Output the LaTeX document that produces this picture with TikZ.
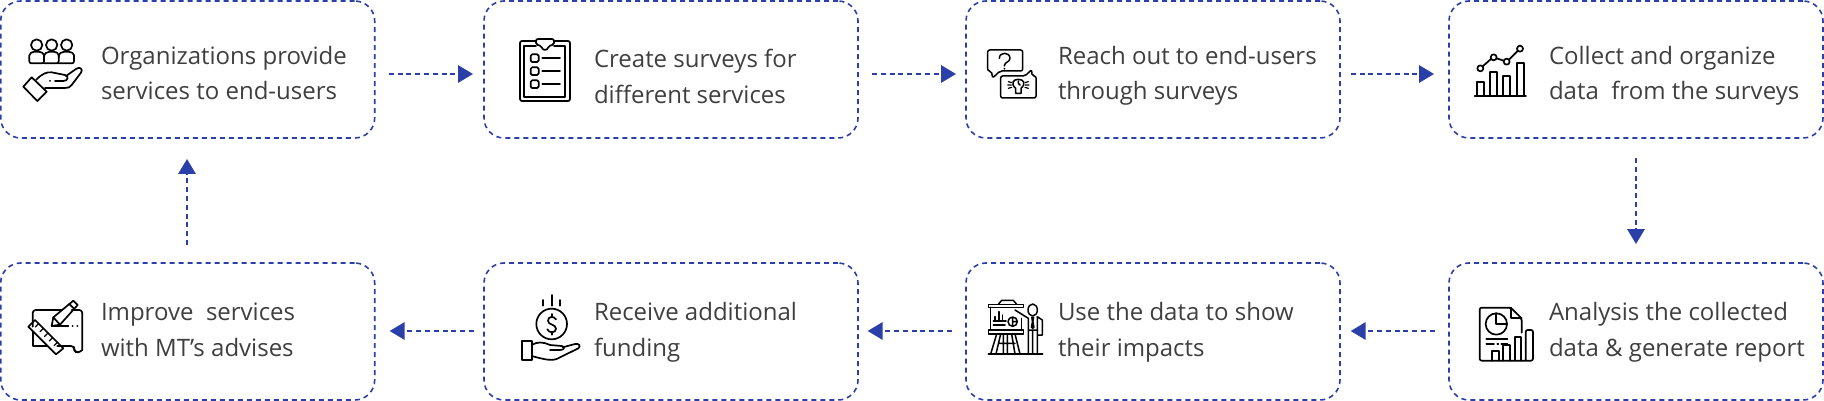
\documentclass[tikz,border=0pt]{standalone}
\usepackage{fontspec}
\setmainfont{Open Sans}
\usetikzlibrary{arrows.meta}
\definecolor{flowblue}{HTML}{2B3FA8}
\definecolor{labelgrey}{HTML}{3F3F3F}
\tikzset{
  stepbox/.style={draw=flowblue,line width=1.6pt,dash pattern=on 5pt off 4pt,rounded corners=20pt,minimum width=374pt,minimum height=137pt,inner sep=0pt,outer sep=0pt},
  flow/.style={draw=flowblue,line width=1.8pt,dash pattern=on 5pt off 3.8pt,-{Triangle[length=15pt,width=17.5pt,fill=flowblue]}},
  lbl/.style={anchor=base west,inner sep=0pt,outer sep=0pt,align=left,text=labelgrey,font=\fontsize{24}{35.6}\selectfont},
  ico/.style={x=0.33333pt,y=-0.33333pt,draw=black,line width=1.7pt,line join=round,line cap=round},
  thin ico/.style={line width=1.2pt}
}
\begin{document}
\begin{tikzpicture}[x=1pt,y=-1pt]
\useasboundingbox (0,0) rectangle (1824,401);
% boxes
\node[stepbox] (a) at (187.7,69.5) {};
\node[stepbox] (b) at (671,69.5) {};
\node[stepbox] (c) at (1153,69.5) {};
\node[stepbox] (d) at (1636,69.5) {};
\node[stepbox] (e) at (187.7,331.5) {};
\node[stepbox] (f) at (671,331.5) {};
\node[stepbox] (g) at (1153,331.5) {};
\node[stepbox] (h) at (1636,331.5) {};
% labels
\node[lbl] (ta) at (101,100) {Organizations provide\\services to end-users};
\node[lbl] (tb) at (594,103.3) {Create surveys for\\different services};
\node[lbl] (tc) at (1058,100) {Reach out to end-users\\through surveys};
\node[lbl] (td) at (1549,100) {Collect and organize\\data\ \ from the surveys};
\node[lbl] (te) at (101,356) {Improve\ \ services\\with MT’s advises};
\node[lbl] (tf) at (594,356) {Receive additional\\funding};
\node[lbl] (tg) at (1058,356) {Use the data to show\\their impacts};
\node[lbl] (th) at (1549,356) {Analysis the collected\\data \& generate report};
% connectors
\draw[flow,shorten <=14pt,shorten >=11pt] ([yshift=-4.5pt]a.east) -- ([yshift=-4.5pt]b.west);
\draw[flow,shorten <=14pt,shorten >=10pt] ([yshift=-4.5pt]b.east) -- ([yshift=-4.5pt]c.west);
\draw[flow,shorten <=10.7pt,shorten >=15pt] ([yshift=-4.5pt]c.east) -- ([yshift=-4.5pt]d.west);
\draw[flow,shorten <=20pt,shorten >=19pt] (d.south) -- (h.north);
\draw[flow,shorten <=14.3pt,shorten >=10.7pt] ([yshift=0.5pt]h.west) -- ([yshift=0.5pt]g.east);
\draw[flow,shorten <=14.3pt,shorten >=9.7pt] ([yshift=0.5pt]g.west) -- ([yshift=0.5pt]f.east);
\draw[flow,shorten <=10pt,shorten >=15pt] ([yshift=0.5pt]f.west) -- ([yshift=0.5pt]e.east);
\draw[flow,shorten <=18pt,shorten >=21pt] ([xshift=-0.7pt]e.north) -- ([xshift=-0.7pt]a.south);
% icon 1: people over a hand
\begin{scope}[shift={(0,0)},ico]
\draw (110,135) circle (17) (155,135) circle (17) (200,135) circle (17);
\draw[rounded corners=2pt] (88,190) -- (88,172) .. controls (88,160) and (96,155) .. (110,155) .. controls (124,155) and (132,160) .. (132,172) -- (132,190) -- cycle;
\draw[rounded corners=2pt] (132,172) .. controls (132,160) and (141,155) .. (155,155) .. controls (169,155) and (176,160) .. (176,172) -- (176,190) -- (132,190);
\draw[rounded corners=2pt] (176,172) .. controls (176,160) and (185,155) .. (199,155) .. controls (214,155) and (222,160) .. (222,172) -- (222,190) -- (176,190);
\draw (70,260) -- (95,232) -- (140,275) -- (112,303) -- cycle;
\draw (108,240) .. controls (125,222) and (140,215) .. (155,217) -- (195,225) .. controls (207,228) and (205,243) .. (190,243) -- (165,243);
\draw (198,228) -- (228,207) .. controls (240,198) and (250,208) .. (243,218) -- (215,255) .. controls (210,262) and (205,264) .. (195,264) -- (135,264);
\fill (150,243) circle (3);
\end{scope}
% icon 2: clipboard
\begin{scope}[shift={(480,0)},ico]
\draw[rounded corners=2pt] (168,123) -- (120,123) -- (120,303) -- (270,303) -- (270,123) -- (222,123);
\draw (168,138) -- (133,138) -- (133,290) -- (256,290) -- (256,138) -- (222,138);
\draw[rounded corners=2pt] (168,117) -- (222,117) -- (222,135) -- (205,137) .. controls (203,152) and (187,152) .. (185,137) -- (168,135) -- cycle;
\foreach \yy in {163,202,241}{
  \draw[rounded corners=1.5pt] (152,\yy) rectangle (176,\yy+23);
  \draw (187,\yy+11) -- (240,\yy+11);
}
\end{scope}
% icon 3: speech bubbles
\begin{scope}[shift={(960,0)},ico,line width=1.5pt]
\draw[rounded corners=2pt] (83,150) -- (188,150) -- (188,213) -- (120,213) -- (98,234) -- (94,213) -- (83,213) -- cycle;
\draw (118,175) .. controls (118,155) and (150,155) .. (150,175) .. controls (150,187) and (133,185) .. (133,198);
\fill (133,206) circle (3);
\draw[rounded corners=2pt] (122,228) -- (195,228) -- (215,209) -- (216,228) -- (228,228) -- (228,294) -- (122,294) -- cycle;
\draw (167,265) .. controls (150,250) and (160,238) .. (175,238) .. controls (190,238) and (200,250) .. (183,265) -- (183,280) -- (167,280) -- cycle;
\draw (175,250) -- (175,243) (175,250) -- (180,255);
\draw[thin ico] (145,245) -- (155,248) (143,255) -- (154,255) (145,265) -- (155,262) (205,245) -- (195,248) (207,255) -- (196,255) (205,265) -- (195,262);
\end{scope}
% icon 4: line and bar chart
\begin{scope}[shift={(1344,0)},ico]
\draw (392,287) -- (546,287);
\draw (398,287) -- (398,247) -- (420,247) -- (420,287);
\draw (438,287) -- (438,215) -- (460,215) -- (460,287);
\draw (478,287) -- (478,228) -- (499,228) -- (499,287);
\draw (518,287) -- (518,188) -- (539,188) -- (539,287);
\draw (409,205) circle (9) (449,172) circle (9) (488,185) circle (9) (528,146) circle (9);
\draw (416,199) -- (441,177) (458,175) -- (479,182) (495,179) -- (521,153);
\end{scope}
% icon 5: ruler and pencil on paper
\begin{scope}[shift={(0,150)},ico]
\draw[rounded corners=3pt] (98,530) -- (98,480) -- (185,480);
\draw[rounded corners=3pt] (215,480) -- (247,480) -- (247,600);
\draw[rounded corners=3pt] (247,600) -- (240,607) -- (228,607) -- (222,600) -- (222,588) -- (172,588);
\draw (98,545) -- (98,587) -- (140,587);
\draw (85,530) -- (105,510) -- (190,595) -- (168,613) -- cycle;
\draw[thin ico] (116,521) -- (106,531) (130,535) -- (120,545) (144,549) -- (134,559) (158,563) -- (148,573) (172,577) -- (162,587);
\draw (155,528) -- (160,502) -- (220,452) -- (233,465) -- (180,524) -- cycle;
\draw (208,462) -- (222,476) (160,502) -- (180,524);
\draw (155,528) -- (205,528);
\fill (218,528) circle (3) (232,528) circle (3);
\end{scope}
% icon 6: coin over a hand
\begin{scope}[shift={(480,250)},ico]
\draw (188,150) -- (188,167) (215,135) -- (215,167) (241,150) -- (241,167);
\draw (215,222) circle (46);
\draw (228,208) .. controls (222,198) and (204,198) .. (204,212) .. controls (204,226) and (228,222) .. (228,236) .. controls (228,250) and (206,250) .. (202,238);
\draw (215,192) -- (215,202) (215,246) -- (215,254);
\draw (126,272) -- (155,272) -- (155,330) -- (126,330) -- cycle;
\draw (155,285) .. controls (170,275) and (190,275) .. (210,285) -- (245,288) .. controls (255,290) and (255,300) .. (240,300) -- (210,300);
\draw (248,292) -- (285,282) .. controls (298,280) and (303,288) .. (295,295) -- (240,322) .. controls (220,335) and (200,330) .. (155,318);
\end{scope}
% icon 7: presenter at a chart board
\begin{scope}[shift={(960,250)},ico,line width=1.5pt]
\draw (85,312) -- (248,312);
\draw (85,163) rectangle (190,172);
\draw (115,163) -- (125,151) -- (160,151) -- (170,163);
\draw (92,172) -- (92,240) (185,205) -- (185,240);
\draw (85,240) rectangle (190,252);
\draw (110,252) -- (92,312) (122,252) -- (108,312) (130,252) -- (130,312) (142,252) -- (142,312) (155,252) -- (165,312) (165,252) -- (180,312) (115,280) -- (165,280);
\draw (105,210) -- (105,200) (117,210) -- (117,185) (128,210) -- (128,195) (100,213) -- (138,213) (100,225) -- (135,225);
\draw (158,215) circle (14) (158,201) -- (158,229) (158,215) -- (172,215);
\draw (218,180) ellipse (14 and 18);
\draw (165,180) -- (205,205) -- (205,312) (232,200) -- (247,210) -- (247,255) -- (232,255) (218,240) -- (218,312) (232,200) -- (232,312) (205,240) -- (232,240);
\fill (213,200) -- (223,200) -- (221,215) -- (224,232) -- (218,238) -- (212,232) -- (215,215) -- cycle;
\end{scope}
% icon 8: report with charts
\begin{scope}[shift={(1344,150)},ico]
\draw[rounded corners=2pt] (533,548) -- (533,505) -- (500,473) -- (407,473) -- (407,632) -- (567,632) -- (567,540) -- (545,540) -- (545,632);
\draw (500,473) -- (500,505) -- (533,505);
\draw (457,522) circle (32);
\draw (457,490) -- (457,522) -- (489,522);
\draw (427,567) -- (490,567) (427,582) -- (450,582) (460,582) -- (463,582) (472,582) -- (490,582);
\draw (445,632) -- (445,602) -- (465,602) -- (465,632);
\draw (478,632) -- (478,585) -- (498,585) -- (498,632);
\draw (512,632) -- (512,562) -- (532,562) -- (532,632);
\end{scope}
\end{tikzpicture}
\end{document}
